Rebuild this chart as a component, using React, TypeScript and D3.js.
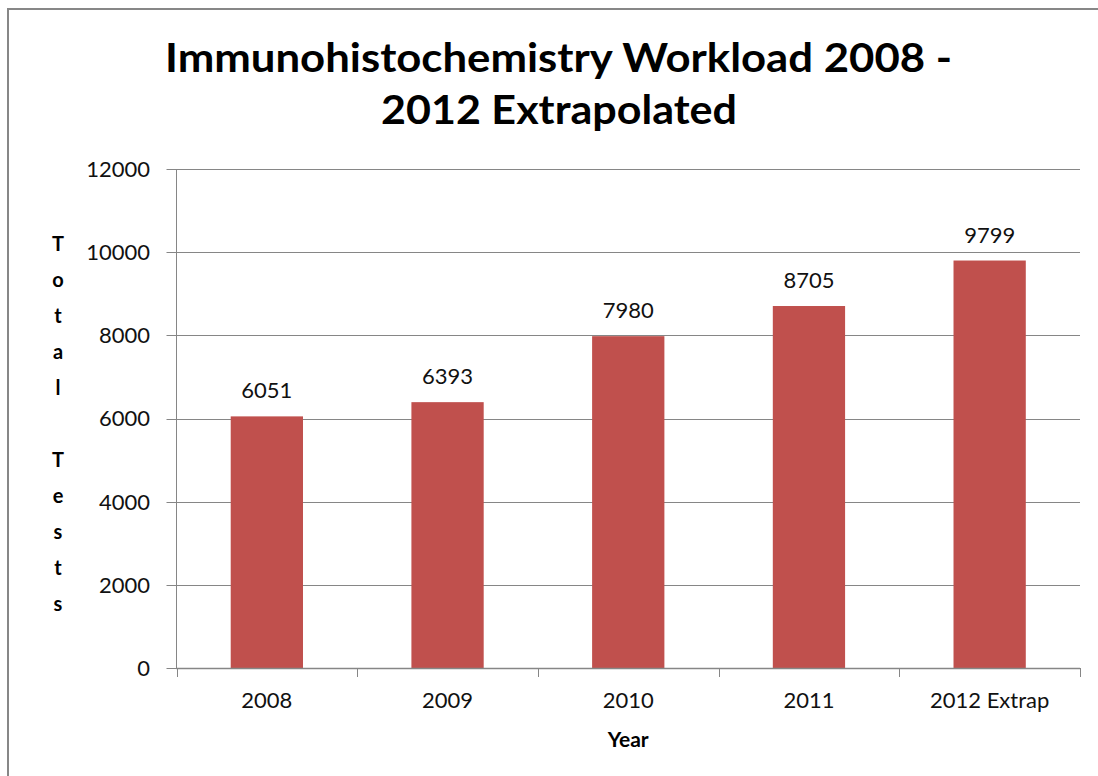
import React from "react";
import * as d3 from "d3";

const categories: string[] = ["2008", "2009", "2010", "2011", "2012 Extrap"];
const totals: number[] = [6051, 6393, 7980, 8705, 9799];
const yTicks: number[] = [0, 2000, 4000, 6000, 8000, 10000, 12000];
const titleLines: string[] = ["Immunohistochemistry Workload 2008 -", "2012 Extrapolated"];
const yAxisTitle = "Total Tests";
const xAxisTitle = "Year";

const W = 1098;
const H = 776;
const plot = { left: 176.5, right: 1080, top: 169, bottom: 668 };
const barColor = "#C0504D";
const gridColor = "#868686";
const font = "Lato, 'Open Sans', sans-serif";

export default function App() {
  const x = d3
    .scaleBand<string>()
    .domain(categories)
    .range([plot.left, plot.right])
    .paddingInner(0.6)
    .paddingOuter(0.3);
  const y = d3.scaleLinear().domain([0, 12000]).range([plot.bottom, plot.top]);
  const step = x.step();
  const boundaries = d3.range(categories.length + 1).map((i) => plot.left + i * step);
  const letters = yAxisTitle.split("");
  const letterGap = 36;
  const midY = (plot.top + plot.bottom) / 2 + 5;
  const startY = midY - ((letters.length - 1) / 2) * letterGap;

  return (
    <svg
      width={W}
      height={H}
      style={{ position: "absolute", left: 0, top: 0, background: "#fff", overflow: "hidden" }}
      fontFamily={font}
    >
      <rect x={0} y={0} width={W} height={H} fill="#fff" />
      <path d={`M8,${H + 10} V9 H${W + 10}`} fill="none" stroke="#878787" strokeWidth={2} />

      {/* title */}
      <text x={558.5} y={72} textAnchor="middle" fontSize={41} fontWeight="bold" fill="#000"
        textLength={787} lengthAdjust="spacingAndGlyphs">
        {titleLines[0]}
      </text>
      <text x={559} y={124} textAnchor="middle" fontSize={41} fontWeight="bold" fill="#000"
        textLength={356} lengthAdjust="spacingAndGlyphs">
        {titleLines[1]}
      </text>

      {/* gridlines and y ticks */}
      {yTicks.map((t) => (
        <g key={t}>
          <line x1={plot.left - 10} x2={plot.right} y1={Math.round(y(t)) + 0.5} y2={Math.round(y(t)) + 0.5}
            stroke={gridColor} strokeWidth={1} />
          <text x={150} y={y(t)} dy="0.36em" textAnchor="end" fontSize={22} fill="#111">
            {t}
          </text>
        </g>
      ))}

      {/* y axis line */}
      <line x1={plot.left} x2={plot.left} y1={plot.top} y2={plot.bottom} stroke={gridColor} strokeWidth={1} />

      {/* bars */}
      {categories.map((c, i) => (
        <rect key={c} x={x(c)} y={y(totals[i])} width={x.bandwidth()} height={y(0) - y(totals[i])} fill={barColor} />
      ))}

      {/* data labels */}
      {categories.map((c, i) => (
        <text key={c} x={(x(c) as number) + x.bandwidth() / 2} y={y(totals[i]) - 18} textAnchor="middle"
          fontSize={22} fill="#111">
          {totals[i]}
        </text>
      ))}

      {/* x axis */}
      <line x1={plot.left} x2={plot.right} y1={plot.bottom + 0.5} y2={plot.bottom + 0.5} stroke={gridColor} strokeWidth={1.5} />
      {boundaries.map((bx, i) => (
        <line key={i} x1={Math.round(bx) + 0.5} x2={Math.round(bx) + 0.5} y1={plot.bottom} y2={plot.bottom + 9}
          stroke={gridColor} strokeWidth={1} />
      ))}
      {categories.map((c) => (
        <text key={c} x={(x(c) as number) + x.bandwidth() / 2} y={708} textAnchor="middle" fontSize={22} fill="#111">
          {c}
        </text>
      ))}

      {/* axis titles */}
      <text x={(plot.left + plot.right) / 2} y={747} textAnchor="middle" fontSize={21} fontWeight="bold" fill="#000">
        {xAxisTitle}
      </text>
      {letters.map((ch, i) =>
        ch === " " ? null : (
          <text key={i} x={58} y={startY + i * letterGap} dy="0.36em" textAnchor="middle" fontSize={20}
            fontWeight="bold" fill="#000">
            {ch}
          </text>
        )
      )}
    </svg>
  );
}
